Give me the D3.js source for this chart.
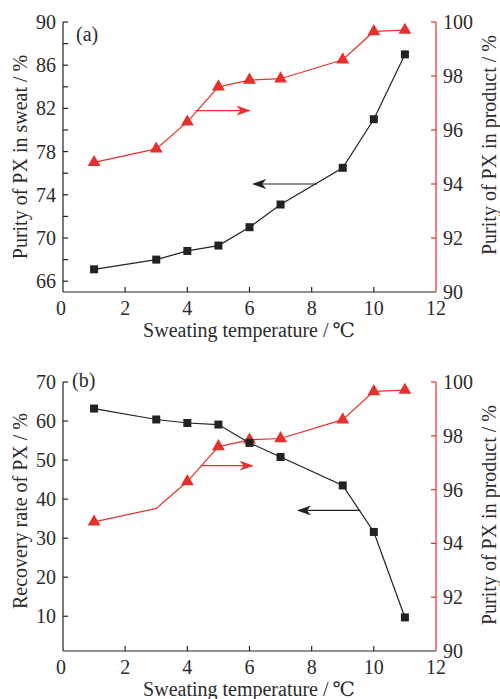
<!DOCTYPE html>
<head>
  <meta charset="utf-8">
  <script src="https://d3js.org/d3.v7.min.js"></script>
  <style>
    body { margin: 0; background: #fff; }
    svg { width: 500px; height: 699px; display: block; }
    text { font-family: "Liberation Serif", "DejaVu Serif", serif; fill: #2b2b2b; }
  </style>
</head>

<body>
  <svg></svg>

  <script>
    // data
    const temps = [1, 3, 4, 5, 6, 7, 9, 10, 11];
    const sweatPurity = [67.1, 68.0, 68.8, 69.3, 71.0, 73.1, 76.5, 81.0, 87.0];
    const productPurity = [94.8, 95.3, 96.3, 97.6, 97.85, 97.9, 98.6, 99.65, 99.7];
    const recoveryRate = [63.2, 60.4, 59.5, 59.1, 54.4, 50.8, 43.5, 31.6, 9.7];
    // panel (b) has no triangle drawn at 3 ℃
    const productMarkersB = [true, false, true, true, true, true, true, true, true];

    const xTicks = [0, 2, 4, 6, 8, 10, 12];
    const sweatTicks = [66, 68, 70, 72, 74, 76, 78, 80, 82, 84, 86, 88, 90];
    const sweatLabels = [66, 70, 74, 78, 82, 86, 90];
    const recoveryTicks = [10, 20, 30, 40, 50, 60, 70];
    const productTicks = [90, 92, 94, 96, 98, 100];

    // arrows: [x0, x1, y] in data units (y on the axis the arrow points to)
    const arrowsA = { red: [4.26, 6.0, 96.72], black: [8.17, 6.12, 75.0] };
    const arrowsB = { red: [4.43, 6.1, 96.89], black: [9.56, 7.56, 37.1] };

    const RED = '#e5302c';
    const BLACK = '#222';
    const FS = 20;

    const svg = d3.select('svg');
    const defs = svg.append('defs');
    [['arrRed', RED], ['arrBlack', BLACK]].forEach(([id, c]) => {
      defs.append('marker')
        .attr('id', id)
        .attr('viewBox', '0 0 14 10')
        .attr('refX', 13).attr('refY', 5)
        .attr('markerWidth', 14).attr('markerHeight', 10)
        .attr('markerUnits', 'userSpaceOnUse')
        .attr('orient', 'auto')
        .append('path')
        .attr('d', 'M0,0 L14,5 L0,10 L4,5 Z')
        .attr('fill', c);
    });

    const left = 63, right = 436;
    const x = d3.scaleLinear().domain([0, 12]).range([left, right]);

    function drawPanel(p) {
      const g = svg.append('g');
      const yL = d3.scaleLinear().domain(p.leftDomain).range([p.bottom, p.top]);
      const yR = d3.scaleLinear().domain([90, 100]).range([p.bottom, p.top]);

      // left axis
      g.append('line').attr('x1', left).attr('x2', left).attr('y1', p.top).attr('y2', p.bottom)
        .attr('stroke', BLACK).attr('stroke-width', 1.2);
      g.selectAll('.lt').data(p.leftTicks).enter().append('line')
        .attr('x1', left).attr('x2', left + 5)
        .attr('y1', d => yL(d)).attr('y2', d => yL(d))
        .attr('stroke', BLACK).attr('stroke-width', 1.2);
      g.selectAll('.ll').data(p.leftLabels).enter().append('text')
        .attr('x', left - 7).attr('y', d => yL(d)).attr('dy', '0.35em')
        .attr('text-anchor', 'end').attr('font-size', FS)
        .text(d => d);

      // bottom axis
      g.append('line').attr('x1', left).attr('x2', right).attr('y1', p.bottom).attr('y2', p.bottom)
        .attr('stroke', BLACK).attr('stroke-width', 1.2);
      g.selectAll('.bt').data(xTicks.slice(1, -1)).enter().append('line')
        .attr('x1', d => x(d)).attr('x2', d => x(d))
        .attr('y1', p.bottom).attr('y2', p.bottom - 5)
        .attr('stroke', BLACK).attr('stroke-width', 1.2);
      g.selectAll('.bl').data(xTicks).enter().append('text')
        .attr('x', d => x(d) - (d === 0 ? 2 : 0)).attr('y', p.bottom + 23)
        .attr('text-anchor', 'middle').attr('font-size', FS)
        .text(d => d);
      g.append('text')
        .attr('x', 249).attr('y', p.bottom + 45)
        .attr('text-anchor', 'middle').attr('font-size', FS)
        .text('Sweating temperature /\u2009\u2103');

      // right axis
      g.append('line').attr('x1', right).attr('x2', right).attr('y1', p.top).attr('y2', p.bottom)
        .attr('stroke', RED).attr('stroke-width', 1.2);
      g.selectAll('.rt').data(productTicks.slice(1)).enter().append('line')
        .attr('x1', right).attr('x2', right - 5)
        .attr('y1', d => yR(d)).attr('y2', d => yR(d))
        .attr('stroke', RED).attr('stroke-width', 1.2);
      g.selectAll('.rl').data(productTicks).enter().append('text')
        .attr('x', right + 7).attr('y', d => yR(d)).attr('dy', '0.35em')
        .attr('font-size', FS)
        .text(d => d);

      // axis titles
      g.append('text')
        .attr('transform', `translate(27,${p.leftTitleY}) rotate(-90)`)
        .attr('text-anchor', 'middle').attr('font-size', FS)
        .text(p.leftTitle);
      g.append('text')
        .attr('transform', `translate(496,${p.rightTitleY}) rotate(-90)`)
        .attr('text-anchor', 'middle').attr('font-size', FS)
        .text('Purity of PX in product / %');

      // panel letter
      g.append('text')
        .attr('x', p.letterX).attr('y', p.letterY)
        .attr('font-size', FS)
        .text(p.letter);

      // red series (right axis)
      const redPts = temps.map((t, i) => [t, productPurity[i]]);
      g.append('path')
        .attr('d', d3.line().x(d => x(d[0])).y(d => yR(d[1]))(redPts))
        .attr('fill', 'none').attr('stroke', RED).attr('stroke-width', 1.2);
      const tri = d3.symbol().type(d3.symbolTriangle).size(72);
      g.selectAll('.tri').data(redPts.filter((d, i) => p.redMarkers[i])).enter().append('path')
        .attr('d', tri)
        .attr('transform', d => `translate(${x(d[0])},${yR(d[1])})`)
        .attr('fill', RED);

      // black series (left axis)
      const blackPts = temps.map((t, i) => [t, p.leftValues[i]]);
      g.append('path')
        .attr('d', d3.line().x(d => x(d[0])).y(d => yL(d[1]))(blackPts))
        .attr('fill', 'none').attr('stroke', BLACK).attr('stroke-width', 1.2);
      g.selectAll('.sq').data(blackPts).enter().append('rect')
        .attr('x', d => x(d[0]) - 4).attr('y', d => yL(d[1]) - 4)
        .attr('width', 8).attr('height', 8)
        .attr('fill', BLACK);

      // arrows
      const ar = p.arrows;
      g.append('line')
        .attr('x1', x(ar.red[0])).attr('x2', x(ar.red[1]))
        .attr('y1', yR(ar.red[2])).attr('y2', yR(ar.red[2]))
        .attr('stroke', RED).attr('stroke-width', 1.2)
        .attr('marker-end', 'url(#arrRed)');
      g.append('line')
        .attr('x1', x(ar.black[0])).attr('x2', x(ar.black[1]))
        .attr('y1', yL(ar.black[2])).attr('y2', yL(ar.black[2]))
        .attr('stroke', BLACK).attr('stroke-width', 1.2)
        .attr('marker-end', 'url(#arrBlack)');
    }

    drawPanel({
      top: 22, bottom: 292,
      leftDomain: [65, 90], leftTicks: sweatTicks, leftLabels: sweatLabels,
      leftValues: sweatPurity, leftTitle: 'Purity of PX in sweat / %',
      leftTitleY: 157, rightTitleY: 145,
      letter: '(a)', letterX: 76, letterY: 41,
      redMarkers: temps.map(() => true),
      arrows: arrowsA
    });

    drawPanel({
      top: 382, bottom: 651,
      leftDomain: [1.1, 70], leftTicks: recoveryTicks, leftLabels: recoveryTicks,
      leftValues: recoveryRate, leftTitle: 'Recovery rate of PX / %',
      leftTitleY: 511, rightTitleY: 515,
      letter: '(b)', letterX: 72, letterY: 387,
      redMarkers: productMarkersB,
      arrows: arrowsB
    });
  </script>
</body>
